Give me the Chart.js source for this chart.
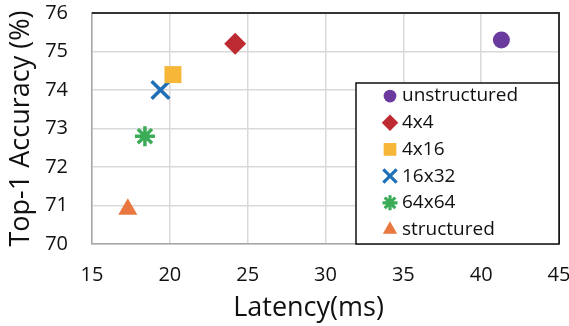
<!DOCTYPE html>
<html>
<head>
<meta charset="utf-8">
<script src="https://cdn.jsdelivr.net/npm/chart.js@4.4.1/dist/chart.umd.min.js"></script>
<style>
  html, body { margin: 0; padding: 0; background: #fff; }
  #wrap { width: 569px; height: 326px; position: relative; }
</style>
</head>
<body>
<div id="wrap"><canvas id="scatterChart"></canvas></div>
<script>
// Data
const seriesNames = ['unstructured', '4x4', '4x16', '16x32', '64x64', 'structured'];
const latencyMs = [41.3, 24.2, 20.2, 19.4, 18.4, 17.3];
const top1Accuracy = [75.3, 75.2, 74.4, 74.0, 72.8, 70.9];
const xTickValues = [15, 20, 25, 30, 35, 40, 45];
const yTickValues = [70, 71, 72, 73, 74, 75, 76];

// Marker look for each series
const markerStyles = ['circle', 'rectRot', 'rect', 'crossRot', 'star', 'triangle'];
const markerColors = ['#6b3a9e', '#be2a31', '#f6b637', '#1f6fb6', '#3aab57', '#e8783f'];
const markerSizes = [8.5, 11, 12, 12.5, 10, 11];
const markerBorder = [0, 0, 0, 3.5, 3.5, 0];

const FONT = "'Open Sans', 'Noto Sans', sans-serif";

const datasets = seriesNames.map((name, i) => ({
    label: name,
    data: [{ x: latencyMs[i], y: top1Accuracy[i] }],
    pointStyle: markerStyles[i],
    pointRadius: markerSizes[i],
    pointHoverRadius: markerSizes[i],
    backgroundColor: markerColors[i],
    borderColor: markerColors[i],
    borderWidth: markerBorder[i]
}));

// Frame on top and right of the plot area
const framePlugin = {
    id: 'frame',
    beforeDatasetsDraw(chart) {
        const { ctx, chartArea } = chart;
        ctx.save();
        ctx.strokeStyle = '#333';
        ctx.lineWidth = 2;
        ctx.beginPath();
        ctx.moveTo(chartArea.left, chartArea.top);
        ctx.lineTo(chartArea.right, chartArea.top);
        ctx.lineTo(chartArea.right, chartArea.bottom);
        ctx.stroke();
        ctx.restore();
    }
};

// Boxed legend in the lower right corner, plus the x axis title
const legendBoxPlugin = {
    id: 'legendBox',
    afterDraw(chart) {
        const { ctx, chartArea } = chart;
        const boxW = 203, boxH = 161;
        const bx = chartArea.right - boxW;
        const by = chartArea.bottom - boxH;
        ctx.save();
        ctx.fillStyle = '#fff';
        ctx.fillRect(bx, by, boxW, boxH);
        ctx.strokeStyle = '#111';
        ctx.lineWidth = 1.5;
        ctx.strokeRect(bx, by, boxW, boxH);

        ctx.font = '19px ' + FONT;
        ctx.textBaseline = 'middle';
        ctx.textAlign = 'left';
        chart.data.datasets.forEach((ds, i) => {
            const rowY = by + 13 + i * 26.7;
            const mx = bx + 34;
            ctx.fillStyle = ds.backgroundColor;
            ctx.strokeStyle = ds.borderColor;
            ctx.lineWidth = ds.borderWidth * 0.9;
            Chart.helpers.drawPoint(ctx, {
                pointStyle: ds.pointStyle,
                radius: ds.pointRadius * 0.75,
                rotation: 0,
                borderWidth: ds.borderWidth
            }, mx, rowY);
            ctx.fillStyle = '#111';
            ctx.fillText(ds.label, bx + 46, rowY);
        });

        // x axis title
        ctx.font = '27px ' + FONT;
        ctx.textAlign = 'center';
        ctx.textBaseline = 'alphabetic';
        ctx.fillStyle = '#111';
        ctx.fillText('Latency(ms)', (chartArea.left + chartArea.right) / 2 - 17, chartArea.bottom + 72);
        ctx.restore();
    }
};

const ctx = document.getElementById('scatterChart').getContext('2d');
const scatterChart = new Chart(ctx, {
    type: 'scatter',
    data: { datasets: datasets },
    options: {
        responsive: true,
        maintainAspectRatio: false,
        animation: false,
        layout: { autoPadding: false, padding: { top: 13, right: 10, left: 0, bottom: 0 } },
        plugins: {
            legend: { display: false },
            tooltip: { enabled: false }
        },
        scales: {
            x: {
                type: 'linear',
                min: xTickValues[0],
                max: xTickValues[xTickValues.length - 1],
                afterBuildTicks: axis => { axis.ticks = xTickValues.map(v => ({ value: v })); },
                afterFit: axis => {
                    axis.height = 82;
                    axis.paddingLeft = 0;
                    axis.paddingRight = 0;
                },
                grid: { color: '#d9d9d9', lineWidth: 1.5, drawTicks: false },
                border: { color: '#a6a6a6', width: 1.5 },
                ticks: { color: '#111', padding: 19, font: { size: 20, family: FONT } }
            },
            y: {
                type: 'linear',
                min: yTickValues[0],
                max: yTickValues[yTickValues.length - 1],
                afterBuildTicks: axis => { axis.ticks = yTickValues.map(v => ({ value: v })); },
                afterFit: axis => {
                    axis.width = 92;
                    axis.paddingTop = 0;
                    axis.paddingBottom = 0;
                },
                grid: { color: '#d9d9d9', lineWidth: 1.5, drawTicks: false },
                border: { color: '#a6a6a6', width: 1.5 },
                ticks: { color: '#111', padding: 24, font: { size: 20, family: FONT } },
                title: {
                    display: true,
                    text: 'Top-1 Accuracy (%)',
                    color: '#111',
                    font: { size: 27, family: FONT },
                    padding: { top: 5, bottom: 0 }
                }
            }
        }
    },
    plugins: [framePlugin, legendBoxPlugin]
});
</script>
</body>
</html>
